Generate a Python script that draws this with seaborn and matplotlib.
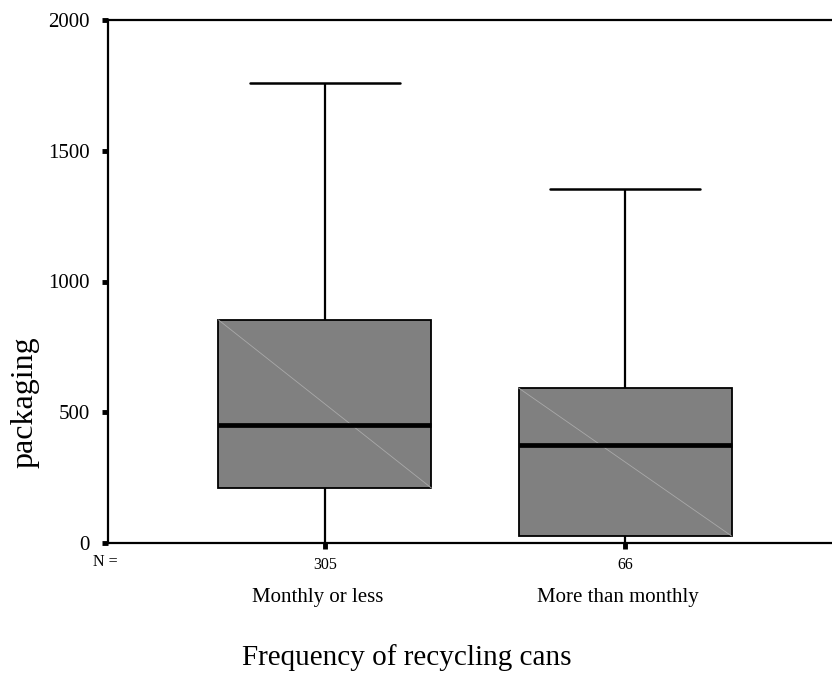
import matplotlib.pyplot as plt
import pandas as pd
import seaborn as sns

# five-number summaries: min, Q1, median, Q3, max
groups = ["Monthly or less", "More than monthly"]
counts = [305, 66]
monthly_or_less = [0, 210, 450, 853, 1759]
more_than_monthly = [0, 27, 375, 593, 1354]
y_ticks = [0, 500, 1000, 1500, 2000]

df = pd.DataFrame({
    "freq": [groups[0]] * len(monthly_or_less) + [groups[1]] * len(more_than_monthly),
    "packaging": monthly_or_less + more_than_monthly,
})

sns.set_theme(style="white")
plt.rcParams["font.family"] = ["Liberation Serif", "DejaVu Serif"]
plt.rcParams.update({
    "text.color": "black",
    "axes.labelcolor": "black",
    "xtick.color": "black",
    "ytick.color": "black",
})

fig = plt.figure(figsize=(8.32, 6.78), dpi=100)
ax = fig.add_axes([108 / 832, 135 / 678, 734 / 832, 523 / 678])

sns.boxplot(
    data=df, x="freq", y="packaging", order=groups, ax=ax,
    color="#808080", saturation=1, width=0.71, whis=1.5,
    linecolor="black", linewidth=1.3, capwidths=0.5,
    medianprops={"linewidth": 3.4, "color": "black", "zorder": 4},
    whiskerprops={"linewidth": 1.6},
    capprops={"linewidth": 1.8},
)

# thin light diagonal through each box (as in the original rendering)
for patch in ax.patches:
    ext = patch.get_path().get_extents()
    ax.plot([ext.x0, ext.x1], [ext.y1, ext.y0], color="#a9a9a9", lw=0.6, zorder=3)

ax.set_xlim(-0.7233, 1.7233)
ax.set_ylim(y_ticks[0], y_ticks[-1])
ax.set_yticks(y_ticks)
ax.set_xticks(range(len(groups)))
ax.set_xticklabels([str(c) for c in counts], fontsize=11.5)
ax.tick_params(axis="y", labelsize=15, length=4, width=3.5, direction="out",
               left=True, pad=9, color="black", labelcolor="black")
ax.tick_params(axis="x", length=4, width=3.5, direction="out", bottom=True,
               pad=6, color="black", labelcolor="black")

for side in ["left", "top", "bottom"]:
    ax.spines[side].set_linewidth(1.6)
    ax.spines[side].set_color("black")
ax.spines["right"].set_visible(False)

trans = ax.get_xaxis_transform()
for i, name in enumerate(groups):
    ax.text(i - 0.025, -0.113, name, transform=trans, ha="center",
            va="baseline", fontsize=15, color="black")
ax.text(-0.003, -0.036, "N =", transform=ax.transAxes, ha="center",
        va="center", fontsize=11.5, color="black")

ax.set_xlabel("Frequency of recycling cans", fontsize=21, color="black")
ax.xaxis.set_label_coords(0.407, -0.234)
ax.xaxis.label.set_va("baseline")
ax.set_ylabel("packaging", fontsize=23, color="black")
ax.yaxis.set_label_coords(-0.113, 0.27)
ax.yaxis.label.set_va("center")

fig.savefig("out.png", dpi=100)
